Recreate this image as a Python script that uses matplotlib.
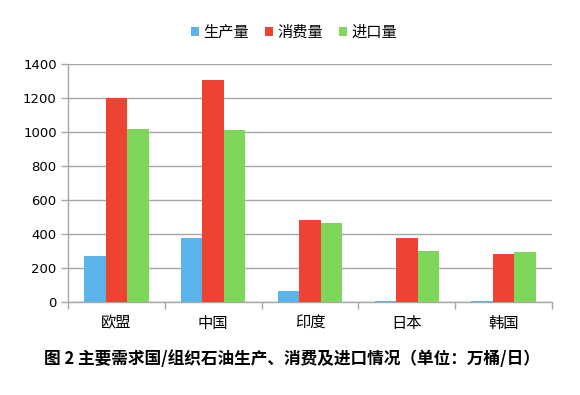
import numpy as np
import matplotlib
matplotlib.use("Agg")
from matplotlib import pyplot as plt
from matplotlib.patches import Patch

plt.rcParams['font.family'] = ['Noto Sans CJK SC', 'DejaVu Sans']

# data (万桶/日)
countries = ["欧盟", "中国", "印度", "日本", "韩国"]
production = [270, 377, 65, 8, 8]
consumption = [1200, 1308, 480, 378, 280]
imports = [1015, 1010, 465, 302, 294]
series_names = ["生产量", "消费量", "进口量"]
colors = ["#5AB4EA", "#EE4232", "#7ED75A"]

fig = plt.figure(figsize=(5.8, 3.95), dpi=100)
ax = fig.add_axes([0.117, 0.2354, 0.835, 0.6026])

x = np.arange(len(countries))
w = 0.222
for i, vals in enumerate([production, consumption, imports]):
    ax.bar(x + (i - 1) * w, vals, width=w, color=colors[i], zorder=3)

ax.set_xlim(-0.5, len(countries) - 0.5)
ax.set_ylim(0, 1400)
ax.set_yticks(range(0, 1401, 200))
ax.yaxis.grid(True, color="#A6A6A6", linewidth=1, zorder=0)

ax.set_xticks(x)
ax.set_xticklabels(countries, fontsize=11)
ax.set_xticks(np.arange(-0.5, len(countries), 1), minor=True)
ax.tick_params(axis="x", which="major", length=0, pad=9)
ax.tick_params(axis="x", which="minor", length=5, color="#A6A6A6", width=1)
ax.tick_params(axis="y", length=5, color="#A6A6A6", width=1, labelsize=9.5, pad=3)
for lab in ax.get_yticklabels():
    lab.set_family("DejaVu Sans")

for s in ["top", "right"]:
    ax.spines[s].set_visible(False)
for s in ["left", "bottom"]:
    ax.spines[s].set_color("#A6A6A6")
    ax.spines[s].set_linewidth(1)

handles = [Patch(facecolor=c, label=n) for c, n in zip(colors, series_names)]
fig.legend(handles=handles, loc="center", bbox_to_anchor=(0.507, 0.918), ncol=3,
           frameon=False, fontsize=11, handlelength=0.55, handleheight=0.55,
           handletextpad=0.3, columnspacing=1.0)

fig.text(0.503, 0.09, "图 2 主要需求国/组织石油生产、消费及进口情况（单位：万桶/日）",
         ha="center", va="center", fontsize=12, fontweight="bold")

fig.savefig("out.png", dpi=100, facecolor="white")
